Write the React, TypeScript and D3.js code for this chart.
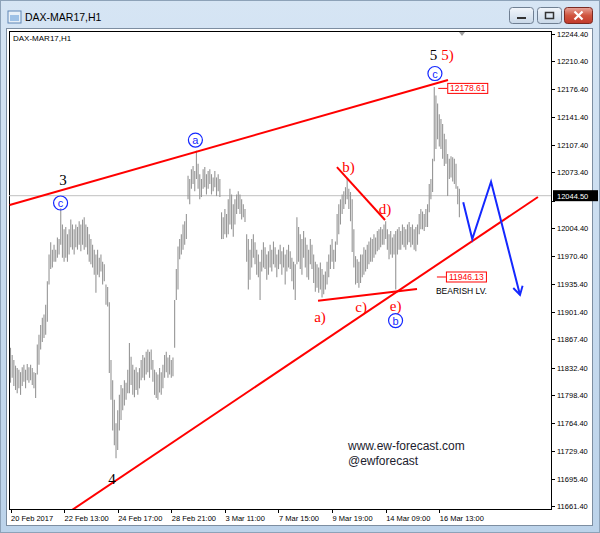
import { useMemo } from 'react';
import * as d3 from 'd3';

// DAX-MAR17 H1 bars (high / low per hourly bar)
const barHigh = [
  11857, 11848, 11842, 11835, 11832, 11830, 11827, 11833, 11836, 11830,
  11837, 11833, 11836, 11832, 11827, 11826, 11861, 11873, 11885, 11894,
  11898, 11910, 11939, 11972, 11987, 11978, 11984, 11978, 11993, 11991,
  12029, 12009, 12003, 12006, 11997, 12003, 12015, 12009, 12003, 12009,
  12006, 12013, 12009, 12015, 12018, 12009, 12006, 11997, 11991, 11984,
  11978, 11972, 11978, 11968, 11972, 11963, 11960, 11935, 11932, 11913,
  11842, 11817, 11793, 11764, 11780, 11799, 11811, 11807, 11817, 11814,
  11830, 11863, 11846, 11836, 11830, 11833, 11827, 11832, 11842, 11848,
  11845, 11852, 11855, 11852, 11855, 11842, 11830, 11827, 11824, 11832,
  11827, 11836, 11848, 11852, 11845, 11848, 11842, 11845, 11916, 11954,
  11982, 11991, 11997, 12009, 12013, 12022, 12069, 12065, 12077, 12081,
  12075, 12100, 12084, 12071, 12065, 12077, 12080, 12071, 12075, 12077,
  12071, 12067, 12075, 12067, 12071, 12065, 12024, 12018, 12028, 12022,
  12040, 12053, 12046, 12034, 12040, 12046, 12050, 12046, 12040, 12034,
  12028, 11997, 11991, 11978, 11991, 11997, 11987, 11978, 11972, 11963,
  11978, 11987, 11981, 11972, 11976, 11984, 11978, 11988, 11981, 11972,
  11978, 11984, 11976, 11981, 11972, 11978, 11984, 11976, 11968, 11963,
  11960, 12018, 12006, 11997, 11991, 12001, 11993, 11984, 11978, 11991,
  11984, 11972, 11963, 11960, 11956, 11962, 11954, 11947, 11951, 11963,
  11972, 11984, 11991, 11978, 11988, 12022, 12034, 12040, 12046, 12050,
  12055, 12065, 12053, 12049, 12040, 12003, 11970, 11966, 11963, 11972,
  11972, 11981, 11978, 11984, 11988, 11993, 11991, 11997, 11993, 12001,
  12003, 12006, 12003, 12009, 12013, 12003, 11997, 12001, 11993, 11997,
  12001, 12003, 12006, 12001, 12009, 12006, 12003, 12009, 12012, 12006,
  12009, 12003, 12006, 12009, 12022, 12028, 12025, 12022, 12028, 12034,
  12059, 12065, 12090, 12178.61, 12168, 12158, 12145, 12139, 12133, 12121,
  12114, 12096, 12090, 12093, 12092, 12090, 12084, 12056, 12053,
];

const barLow = [
  11814, 11820, 11810, 11805, 11801, 11807, 11799, 11810, 11815, 11807,
  11817, 11814, 11817, 11811, 11807, 11795, 11824, 11836, 11855, 11864,
  11869, 11873, 11889, 11935, 11954, 11956, 11963, 11963, 11968, 11972,
  11984, 11968, 11963, 11968, 11963, 11972, 11981, 11978, 11972, 11981,
  11978, 11984, 11976, 11984, 11978, 11981, 11972, 11963, 11960, 11956,
  11947, 11925, 11947, 11944, 11951, 11935, 11939, 11910, 11908, 11826,
  11793, 11755, 11737, 11721, 11731, 11755, 11768, 11780, 11786, 11793,
  11801, 11801, 11811, 11799, 11796, 11805, 11799, 11807, 11817, 11820,
  11817, 11824, 11827, 11820, 11830, 11815, 11799, 11795, 11793, 11802,
  11799, 11807, 11820, 11827, 11820, 11824, 11820, 11822, 11857, 11916,
  11929, 11966, 11972, 11978, 11984, 11991, 12040, 12034, 12053, 12059,
  12050, 12065, 12053, 12040, 12043, 12053, 12055, 12046, 12053, 12059,
  12046, 12050, 12055, 12044, 12050, 12043, 11991, 11991, 11997, 11993,
  11997, 12009, 12003, 11994, 12009, 12022, 12028, 12022, 12015, 12018,
  12012, 11963, 11929, 11941, 11956, 11968, 11960, 11947, 11944, 11916,
  11951, 11956, 11954, 11941, 11947, 11956, 11951, 11960, 11956, 11944,
  11954, 11960, 11947, 11956, 11935, 11951, 11956, 11954, 11939, 11929,
  11916, 11960, 11963, 11954, 11947, 11968, 11956, 11944, 11941, 11960,
  11954, 11937, 11926, 11931, 11925, 11929, 11919, 11923, 11929, 11935,
  11944, 11954, 11963, 11954, 11963, 11984, 11997, 12009, 12022, 12028,
  12034, 12040, 12028, 12013, 11975, 11956, 11935, 11937, 11931, 11937,
  11944, 11947, 11951, 11954, 11960, 11963, 11963, 11968, 11972, 11976,
  11978, 11981, 11984, 11984, 11991, 11978, 11966, 11972, 11968, 11972,
  11929, 11972, 11978, 11978, 11984, 11981, 11978, 11984, 11987, 11981,
  11984, 11978, 11976, 11984, 11997, 12003, 12003, 12001, 12006, 12006,
  12024, 12040, 12049, 12087, 12102, 12114, 12105, 12102, 12090, 12081,
  12084, 12044, 12065, 12067, 12062, 12059, 12053, 12034, 12018,
];

// 12038.40 sits under the current-price tag, so only its tick mark shows
const priceTicks = [
  12244.4, 12210.4, 12176.4, 12141.4, 12107.4, 12073.4, 12038.4, 12004.4, 11970.4,
  11935.4, 11901.4, 11867.4, 11832.4, 11798.4, 11764.4, 11729.4, 11695.4, 11661.4,
];
const hiddenTick = 12038.4;
const timeTickBars = [0, 32, 64, 96, 128, 160, 192, 224, 256];
const timeLabels = [
  '20 Feb 2017', '22 Feb 13:00', '24 Feb 17:00', '28 Feb 21:00', '3 Mar 11:00',
  '7 Mar 15:00', '9 Mar 19:00', '14 Mar 09:00', '16 Mar 13:00',
];
const lastPrice = 12044.5;
const peakPrice = 12178.61;
const bearishLevel = 11946.13;

// trend lines as [bar index, price]
const upperLine: [number, number][] = [[-0.5, 12033.0], [261.2, 12187.1]];
const lowerLine: [number, number][] = [[30, 11647.7], [314.9, 12042.9]];
const bdLine: [number, number][] = [[194.9, 12079.8], [223.6, 12014.5]];
const aeLine: [number, number][] = [[183.6, 11915.1], [242.7, 11929.5]];
const projection: [number, number][] = [[270.3, 12036.3], [275.7, 11991.1], [286.9, 12061.7], [304.2, 11922.1]];

const blackLabels = [
  { text: '3', bar: 31.3, price: 12057.7 },
  { text: '4', bar: 60.6, price: 11689.1 },
  { text: '5', bar: 252.5, price: 12211.7 },
];
const redLabels = [
  { text: '5)', bar: 260.9, price: 12211.7 },
  { text: 'a)', bar: 184.8, price: 11888.8 },
  { text: 'b)', bar: 201.8, price: 12073.7 },
  { text: 'c)', bar: 209.3, price: 11901.1 },
  { text: 'd)', bar: 223.6, price: 12021.9 },
  { text: 'e)', bar: 229.9, price: 11902.4 },
];
const circledLabels = [
  { text: 'c', bar: 29.9, price: 12035.5 },
  { text: 'a', bar: 110.4, price: 12113.1 },
  { text: 'c', bar: 253.4, price: 12195.1 },
  { text: 'b', bar: 229.9, price: 11890.6 },
];

const W = 600;
const H = 533;
const plot = { left: 9, top: 31, right: 551, bottom: 509 };

export default function App() {
  const x = useMemo(() => d3.scaleLinear().domain([0, 323]).range([10.5, 551.5]), []);
  const y = useMemo(() => d3.scaleLinear().domain([11658.3, 12247.5]).range([plot.bottom, plot.top]), []);
  const line = d3.line<[number, number]>().x(d => x(d[0])).y(d => y(d[1]));

  const serif = '"Liberation Serif", "DejaVu Serif", serif';
  const sans = '"Liberation Sans", Arial, sans-serif';
  const red = '#ff0000';
  const blue = '#1428ff';

  return (
    <svg width={W} height={H} style={{ position: 'fixed', left: 0, top: 0 }}>
      <defs>
        <linearGradient id="frame" x1="0" y1="0" x2="0" y2="1">
          <stop offset="0" stopColor="#d6e5f4" />
          <stop offset="1" stopColor="#bcd3ea" />
        </linearGradient>
        <linearGradient id="btn" x1="0" y1="0" x2="0" y2="1">
          <stop offset="0" stopColor="#f2f6fb" />
          <stop offset="1" stopColor="#c9d8e8" />
        </linearGradient>
        <linearGradient id="close" x1="0" y1="0" x2="0" y2="1">
          <stop offset="0" stopColor="#e8a59b" />
          <stop offset="0.5" stopColor="#d0553f" />
          <stop offset="1" stopColor="#c1392b" />
        </linearGradient>
        <clipPath id="plotClip">
          <rect x={plot.left} y={plot.top} width={plot.right - plot.left} height={plot.bottom - plot.top} />
        </clipPath>
        <marker id="arrow" viewBox="0 0 10 10" refX="8" refY="5" markerWidth="6" markerHeight="6" orient="auto">
          <path d="M1,1 L8,5 L1,9" fill="none" stroke={blue} strokeWidth="1.6" />
        </marker>
      </defs>

      {/* window chrome */}
      <rect x={0} y={0} width={W} height={H} fill="url(#frame)" />
      <rect x={0.5} y={0.5} width={W - 1} height={H - 1} fill="none" stroke="#8da2b8" />
      <rect x={8} y={11} width={13} height={12} fill="#e8f0f8" stroke="#5f86b5" />
      <rect x={10} y={15} width={9} height={6} fill="#9ec1e6" />
      <text x={25} y={21} fontFamily={sans} fontSize={10.5} fill="#000">DAX-MAR17,H1</text>
      <rect x={509.5} y={7.5} width={24} height={16} rx={3} fill="url(#btn)" stroke="#6f7f92" />
      <rect x={517} y={17} width={9} height={2} fill="#333" />
      <rect x={537.5} y={7.5} width={24} height={16} rx={3} fill="url(#btn)" stroke="#6f7f92" />
      <rect x={545.5} y={12.5} width={8} height={6} fill="none" stroke="#333" strokeWidth={1.5} />
      <rect x={564.5} y={7.5} width={28} height={16} rx={3} fill="url(#close)" stroke="#7a2a22" />
      <path d="M574.5,11.5 L582.5,19.5 M582.5,11.5 L574.5,19.5" stroke="#fff" strokeWidth={2.2} />

      {/* chart client area */}
      <rect x={6.5} y={28.5} width={586} height={497} fill="#fff" stroke="#7d8ea1" />
      <rect x={plot.left + 0.5} y={plot.top + 0.5} width={plot.right - plot.left} height={plot.bottom - plot.top} fill="#fff" stroke="#000" />
      <text x={13} y={41} fontFamily={sans} fontSize={8} fill="#000">DAX-MAR17,H1</text>
      <path d="M459,32 L465,32 L462,36 Z" fill="#a0a0a0" />

      {/* price axis */}
      {priceTicks.map(p => (
        <g key={p}>
          <line x1={plot.right + 1} x2={plot.right + 4} y1={Math.round(y(p)) + 0.5} y2={Math.round(y(p)) + 0.5} stroke="#000" />
          {p !== hiddenTick && (
            <text x={plot.right + 6} y={y(p) + 3} fontFamily={sans} fontSize={7.5} fill="#000">{p.toFixed(2)}</text>
          )}
        </g>
      ))}

      {/* time axis */}
      {timeTickBars.map((b, i) => (
        <g key={b}>
          <line x1={Math.round(x(b)) + 0.5} x2={Math.round(x(b)) + 0.5} y1={plot.bottom + 1} y2={plot.bottom + 4} stroke="#000" />
          <text x={x(b) + 0.5} y={plot.bottom + 12} fontFamily={sans} fontSize={7.5} fill="#000">{timeLabels[i]}</text>
        </g>
      ))}

      <g clipPath="url(#plotClip)">
        {/* last price line */}
        <line x1={plot.left} x2={plot.right} y1={y(lastPrice)} y2={y(lastPrice)} stroke="#c0c0c0" />

        {/* bars */}
        {barHigh.map((h, i) => (
          <line key={i} x1={x(i)} x2={x(i)} y1={y(h)} y2={y(barLow[i])} stroke="#969696" strokeWidth={1.1} />
        ))}

        {/* trend lines */}
        {[upperLine, lowerLine, bdLine, aeLine].map((l, i) => (
          <path key={i} d={line(l) ?? ''} fill="none" stroke={red} strokeWidth={2} />
        ))}

        {/* projected path */}
        <path d={line(projection) ?? ''} fill="none" stroke={blue} strokeWidth={2} markerEnd="url(#arrow)" />
      </g>

      {/* current price tag */}
      <rect x={plot.right + 2} y={y(lastPrice) - 5.5} width={45} height={11} fill="#000" />
      <text x={plot.right + 6} y={y(lastPrice) + 3} fontFamily={sans} fontSize={7.5} fill="#fff">{lastPrice.toFixed(2)}</text>

      {/* price labels */}
      {[{ p: peakPrice, bar: 253 }, { p: bearishLevel, bar: 252.2 }].map(({ p, bar }) => (
        <g key={p}>
          <line x1={x(bar) + 4} x2={x(bar) + 13} y1={y(p) + 1.5} y2={y(p) + 1.5} stroke={red} />
          <rect x={x(bar) + 13.5} y={y(p) - 3.5} width={40} height={10} fill="#fff" stroke={red} />
          <text x={x(bar) + 33.5} y={y(p) + 4.5} textAnchor="middle" fontFamily={sans} fontSize={8.5} fill={red}>{p.toFixed(2)}</text>
        </g>
      ))}
      <text x={x(254)} y={y(11923.3)} fontFamily={sans} fontSize={8.5} fill="#000">BEARISH LV.</text>

      {/* wave labels */}
      {blackLabels.map((d, i) => (
        <text key={i} x={x(d.bar)} y={y(d.price)} textAnchor="middle" fontFamily={serif} fontSize={15} fill="#000">{d.text}</text>
      ))}
      {redLabels.map((d, i) => (
        <text key={i} x={x(d.bar)} y={y(d.price)} textAnchor="middle" fontFamily={serif} fontSize={15} fill={red}>{d.text}</text>
      ))}
      {circledLabels.map((d, i) => (
        <g key={i}>
          <circle cx={x(d.bar)} cy={y(d.price)} r={7} fill="none" stroke={blue} strokeWidth={1.2} />
          <text x={x(d.bar)} y={y(d.price) + 4} textAnchor="middle" fontFamily={sans} fontSize={11} fill={blue}>{d.text}</text>
        </g>
      ))}

      {/* watermark */}
      <text x={348} y={450} fontFamily={sans} fontSize={12} fill="#1c1c2e">www.ew-forecast.com</text>
      <text x={348} y={465} fontFamily={sans} fontSize={12} fill="#1c1c2e">@ewforecast</text>
    </svg>
  );
}
